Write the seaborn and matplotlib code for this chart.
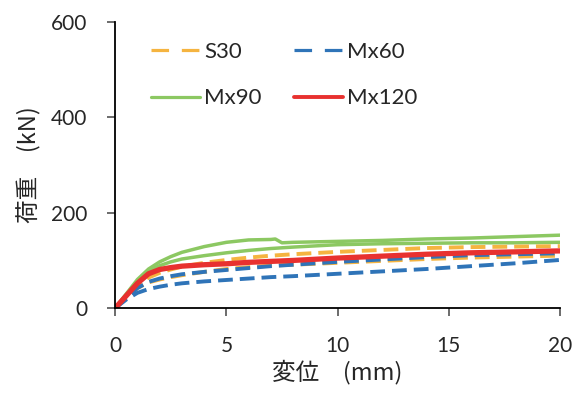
import matplotlib
matplotlib.use("Agg")
import matplotlib.pyplot as plt
import seaborn as sns
import pandas as pd
from matplotlib.lines import Line2D

# ---- data ----
x_common = [0, 0.5, 1, 1.5, 2, 2.5, 3, 4, 5, 6, 7, 8, 10, 12, 14, 16, 18, 20]

s30_a = [0, 25, 48, 64, 74, 81, 87, 95, 101, 106, 110, 113, 118, 122, 126, 128, 129, 130]
s30_b = [0, 22, 42, 54, 60, 65, 69, 76, 82, 86, 89, 91, 95, 99, 103, 106, 108, 110]
mx60_a = [0, 22, 42, 55, 62, 67, 71, 76, 80, 84, 88, 91, 97, 102, 107, 111, 113, 115]
mx60_b = [0, 18, 32, 40, 45, 49, 52, 56, 59, 62, 65, 67, 72, 77, 82, 88, 94, 101]
mx90_a_x = [0, 0.5, 1, 1.5, 2, 2.5, 3, 4, 5, 6, 7, 7.2, 7.5, 8, 10, 12, 14, 16, 18, 20]
mx90_a = [0, 30, 60, 82, 97, 108, 117, 129, 138, 143, 144, 145, 137, 138, 140, 142, 145, 147, 150, 153]
mx90_b = [0, 28, 56, 77, 89, 97, 103, 110, 116, 121, 125, 128, 133, 135, 136, 137, 137, 138]
mx120 = [0, 26, 52, 72, 81, 85, 88, 91, 93, 96, 98, 100, 105, 109, 113, 116, 118, 120]

series_names = ["S30", "Mx60", "Mx90", "Mx120"]
colors = {"S30": "#F5B440", "Mx60": "#2F74B8", "Mx90": "#8CC862", "Mx120": "#E8312F"}

curves = [
    ("S30", "S30-a", x_common, s30_a),
    ("S30", "S30-b", x_common, s30_b),
    ("Mx60", "Mx60-a", x_common, mx60_a),
    ("Mx60", "Mx60-b", x_common, mx60_b),
    ("Mx90", "Mx90-a", mx90_a_x, mx90_a),
    ("Mx90", "Mx90-b", x_common, mx90_b),
    ("Mx120", "Mx120-a", x_common, mx120),
]

rows = []
for s, u, xs, ys in curves:
    for xv, yv in zip(xs, ys):
        rows.append({"series": s, "unit": u, "x": xv, "y": yv})
df = pd.DataFrame(rows)

sns.set_style("ticks")
plt.rcParams["font.family"] = ["Lato", "Noto Sans CJK JP", "DejaVu Sans"]
TXT = "#262626"

fig = plt.figure(figsize=(5.76, 3.95), dpi=100)
ax = fig.add_axes([0.2, 0.22, 0.772, 0.724])

styles = {
    "S30": dict(lw=2.8, dashes=(3.8, 1.8)),
    "Mx60": dict(lw=2.8, dashes=(3.8, 1.8)),
    "Mx90": dict(lw=2.5, dashes=None),
    "Mx120": dict(lw=3.8, dashes=None),
}
draw_order = ["Mx90", "S30", "Mx60", "Mx120"]
for s in draw_order:
    sub = df[df["series"] == s]
    st = styles[s]
    kw = {}
    if st["dashes"] is not None:
        kw["dashes"] = st["dashes"]
    for u, g in sub.groupby("unit", sort=False):
        sns.lineplot(data=g, x="x", y="y", ax=ax, color=colors[s], lw=st["lw"],
                     estimator=None, sort=False, legend=False, **kw)

ax.set_xlim(0, 20)
ax.set_ylim(0, 600)
ax.set_xticks([0, 5, 10, 15, 20])
ax.set_yticks([0, 200, 400, 600])
for sp in ["top", "right"]:
    ax.spines[sp].set_visible(False)
for sp in ["left", "bottom"]:
    ax.spines[sp].set_linewidth(1.3)
    ax.spines[sp].set_color("black")
ax.tick_params(axis="both", labelsize=15, length=6, width=1.1, colors="#444444",
               labelcolor=TXT)
ax.tick_params(axis="y", pad=14)
ax.tick_params(axis="x", pad=14)
jp = ["Noto Sans CJK JP", "DejaVu Sans"]
ax.set_xlabel("変位\u3000(mm)", fontsize=17, family=jp, labelpad=3, color=TXT)
ax.set_ylabel("荷重\u3000(kN)", fontsize=17, family=jp, labelpad=7, color=TXT)

handles = []
for s in series_names:
    st = styles[s]
    h = Line2D([0], [0], color=colors[s], lw=2.3 if s != "Mx120" else 2.8)
    if st["dashes"] is not None:
        h.set_dashes((5.5, 4.0))
    handles.append(h)
order = [0, 2, 1, 3]  # row-wise fill: S30, Mx60 / Mx90, Mx120
ax.legend([handles[i] for i in order], [series_names[i] for i in order],
          ncol=2, frameon=False, loc="upper left",
          bbox_to_anchor=(0.036, 1.0), fontsize=16, handlelength=2.2,
          handletextpad=0.18, columnspacing=1.45, labelspacing=1.18,
          labelcolor=TXT)

fig.savefig("out.png", dpi=100)
